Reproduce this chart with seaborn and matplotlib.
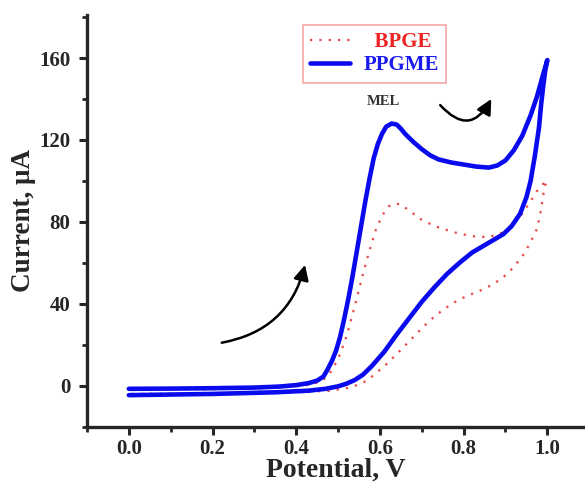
import matplotlib
matplotlib.use("Agg")
import matplotlib.pyplot as plt
import seaborn as sns
import pandas as pd
from matplotlib.patches import FancyArrowPatch
from matplotlib.ticker import MultipleLocator

# ---- data (potential V, current uA), forward then reverse scan ----
ppgme_v = [0.0, 0.1, 0.2, 0.3, 0.36, 0.40, 0.43, 0.45, 0.465, 0.475, 0.485, 0.495, 0.505,
           0.515, 0.525, 0.535, 0.545, 0.555, 0.565, 0.575, 0.585, 0.595, 0.605, 0.615, 0.628,
           0.64, 0.65, 0.66, 0.68, 0.70, 0.72, 0.74, 0.77, 0.80, 0.83, 0.86, 0.88,
           0.90, 0.92, 0.94, 0.96, 0.975, 0.99, 1.0,
           0.995, 0.99, 0.985, 0.98, 0.97, 0.96, 0.95, 0.935, 0.915, 0.895, 0.87,
           0.845, 0.82, 0.79, 0.76, 0.73, 0.70, 0.67, 0.64, 0.61, 0.58, 0.56,
           0.54, 0.52, 0.50, 0.47, 0.43, 0.35, 0.2, 0.0]
ppgme_i = [-1.5, -1.4, -1.2, -0.9, -0.4, 0.3, 1.3, 2.5, 4.5, 8, 12, 17, 24,
           33, 43, 54, 66, 78, 90, 101, 111, 118, 123, 126.5, 128,
           127.5, 125.5, 123, 119, 115.5, 112.5, 110.5, 109, 108, 107, 106.5, 107.5,
           110, 115, 122, 132, 141, 152, 159,
           154, 146, 137, 126, 112, 100, 92, 84, 78, 74, 71,
           68, 65, 60, 54.5, 48, 41, 33, 25, 16.5, 9.5, 5.5,
           2.8, 1.0, -0.3, -1.5, -2.4, -3.2, -4.0, -4.6]

bpge_v = [0.0, 0.3, 0.42, 0.46, 0.48, 0.50, 0.52, 0.54, 0.56, 0.575, 0.59, 0.605,
          0.62, 0.635, 0.65, 0.67, 0.70, 0.73, 0.775, 0.82, 0.86, 0.895, 0.92,
          0.94, 0.96, 0.975, 0.99, 1.0,
          0.995, 0.99, 0.985, 0.976, 0.96, 0.943, 0.92, 0.895, 0.87, 0.84, 0.81,
          0.785, 0.75, 0.72, 0.69, 0.665, 0.64, 0.617, 0.59, 0.569, 0.545,
          0.52, 0.48, 0.4, 0.0]
bpge_i = [-2, -1.5, 0, 2, 6, 13, 24, 39, 55, 66, 76, 83,
          87.5, 89, 88.5, 85.5, 81, 78, 75, 73, 72.5, 75, 79,
          84, 90, 95, 98.5, 100,
          98, 93, 86, 77, 70, 64, 58, 53, 49.5, 46.5, 44,
          41.6, 37, 32, 26, 20.6, 15.5, 10.8, 6, 2.5, 0.3,
          -1.2, -2.5, -3.2, -4]

x_ticks = [0.0, 0.2, 0.4, 0.6, 0.8, 1.0]
y_ticks = [0, 40, 80, 120, 160]

sns.set_style("ticks")
plt.rcParams['font.family'] = ['Liberation Serif', 'DejaVu Serif']
plt.rcParams['font.weight'] = 'bold'

fig = plt.figure(figsize=(5.85, 4.86), dpi=100)
ax = fig.add_axes([87/585, (486-426.7)/486, 1-87/585, 411.7/486])

df_b = pd.DataFrame({"V": bpge_v, "I": bpge_i})
df_p = pd.DataFrame({"V": ppgme_v, "I": ppgme_i})

sns.lineplot(data=df_b, x="V", y="I", sort=False, estimator=None, ax=ax,
             color="#e8484a", lw=1.6, linestyle=(0, (1, 3.2)), label="BPGE")
sns.lineplot(data=df_p, x="V", y="I", sort=False, estimator=None, ax=ax,
             color="#0a0aee", lw=3.3, label="PPGME",
             solid_joinstyle='round', solid_capstyle='round')

ax.set_xlim(-0.1, 1.09)
ax.set_ylim(-20, 181)
ax.set_xticks(x_ticks)
ax.set_yticks(y_ticks)
ax.set_xticklabels([f"{t:.1f}" for t in x_ticks])
ax.xaxis.set_minor_locator(MultipleLocator(0.1))
ax.yaxis.set_minor_locator(MultipleLocator(20))
ax.tick_params(which='major', direction='out', length=6, width=2.2, labelsize=15)
ax.tick_params(axis='y', which='major', pad=6)
ax.tick_params(axis='x', which='major', pad=3)
ax.tick_params(which='minor', direction='out', length=3.5, width=2.0)
for lab in ax.get_xticklabels() + ax.get_yticklabels():
    lab.set_fontweight('bold')

for s in ['top', 'right']:
    ax.spines[s].set_visible(False)
for s in ['left', 'bottom']:
    ax.spines[s].set_linewidth(2.4)

ax.set_xlabel("Potential, V", fontsize=20, fontweight='bold', labelpad=-1)
ax.set_ylabel("Current, μA", fontsize=19.5, fontweight='bold', labelpad=2)

leg = ax.legend(loc='upper left', bbox_to_anchor=(0.434, 0.976),
                frameon=True, fancybox=False, handlelength=1.9, borderpad=0.35,
                labelspacing=0.15, handletextpad=0.65, borderaxespad=0,
                prop={'weight': 'bold', 'size': 15})
leg.get_frame().set_edgecolor('#f09090')
leg.get_frame().set_linewidth(1.2)
leg.get_texts()[0].set_color('#ee2222')
leg.get_texts()[1].set_color('#1a1aee')
leg.get_texts()[0].set_text("  BPGE")

ax.text(0.608, 139, "MEL", fontsize=10.5, fontweight='bold', color='#333333',
        ha='center', va='center')

a1 = FancyArrowPatch((0.222, 21), (0.421, 59), connectionstyle="arc3,rad=0.32",
                     arrowstyle='-|>,head_length=7,head_width=3.5', lw=1.8, color='black',
                     mutation_scale=1.3, shrinkA=0, shrinkB=0)
ax.add_patch(a1)
a2 = FancyArrowPatch((0.744, 137), (0.866, 140), connectionstyle="arc3,rad=0.7",
                     arrowstyle='-|>,head_length=7,head_width=3.5', lw=1.8, color='black',
                     mutation_scale=1.3, shrinkA=0, shrinkB=0)
ax.add_patch(a2)

fig.savefig("out.png", dpi=100)
